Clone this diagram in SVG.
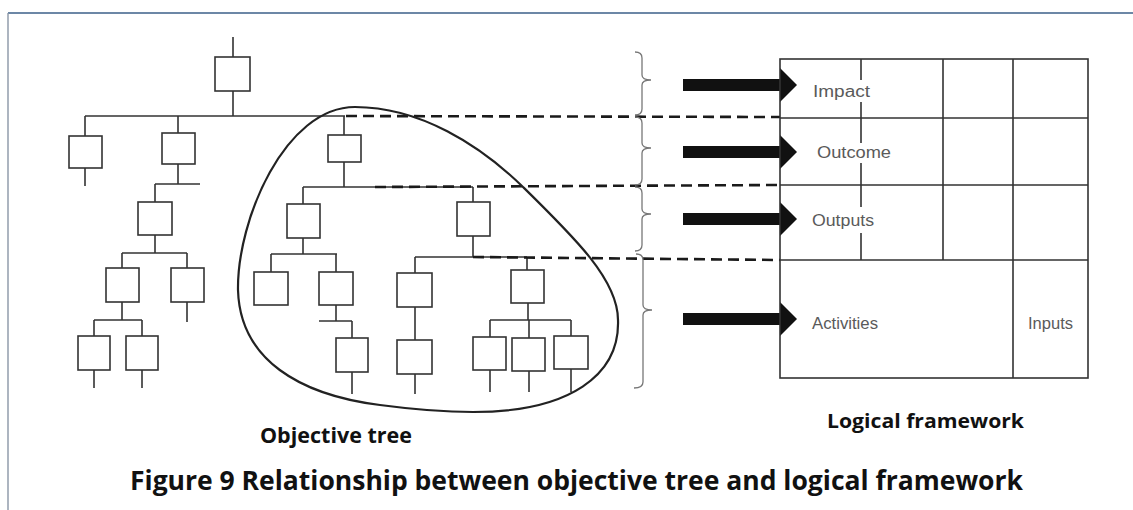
<svg xmlns="http://www.w3.org/2000/svg" xmlns:xlink="http://www.w3.org/1999/xlink" width="1133" height="510" viewBox="0 0 1133 510">
<style>
.box{fill:#fff;stroke:#333;stroke-width:1.6}
.ln{fill:none;stroke:#333;stroke-width:1.6}
.dash{fill:none;stroke:#1a1a1a;stroke-width:2.6;stroke-dasharray:11 6}
.brace{fill:none;stroke:#777;stroke-width:1.3}
.arrow{fill:#111}
.grid{fill:none;stroke:#333;stroke-width:1.6}
.blob{fill:none;stroke:#222;stroke-width:2.2}
.lf{font-family:"Liberation Sans",Arial,sans-serif;font-size:16px;fill:#5a5a5a}
.lbl{font-family:"Open Sans","Liberation Sans",Arial,sans-serif;font-weight:bold;fill:#111}
</style>
<defs>
<path id="arr" d="M0 -6 L97 -6 L97 -17 L114 0 L97 17 L97 6 L0 6 Z"/>
</defs>
<rect x="0" y="0" width="1133" height="510" fill="#fff"/>
<g id="frame">
<line x1="8" y1="13" x2="1133" y2="13" stroke="#3b5f88" stroke-width="1.6"/>
<line x1="8" y1="13" x2="8" y2="510" stroke="#8a96a6" stroke-width="1.4"/>
</g>
<g id="connectors">
<path class="ln" d="M233 37V57 M233 91V116 M85 116H345 M85 116V136 M85 168V186 M178 116V133 M178 164V184 M155 184H200 M155 184V202 M155 235V253 M122 253H187 M122 253V268 M187 253V268 M187 302V322 M122 302V320 M94 320H142 M94 320V336 M142 320V336 M94 370V388 M142 370V388"/>
<path class="ln" d="M344 116V135 M344 162V187 M303 187H473 M303 187V204 M303 238V254 M271 254H337 M271 254V272 M336 254V272 M336 305V321 M319 321H352 M352 321V338 M352 372V394 M473 187V202 M473 236V257 M415 257H527 M415 257V273 M415 307V340 M415 374V394 M527 257V270 M528 303V320 M490 320H571 M490 320V337 M529 320V338 M571 320V336 M490 370V392 M529 371V392 M571 369V392"/>
<path class="dash" d="M346 116L780 117 M375 187L780 185 M473 257L780 260"/>
<path class="blob" d="M355 107 C420 107 480 145 523 187 C575 238 618 280 618 320 C620 375 570 412 473 412 C440 412 410 409 380 405 C300 395 240 360 238 290 C237 220 285 107 355 107 Z"/>
<path class="brace" d="M635 52 Q642 52 642 58 L642 75 Q642 80 651 80 Q642 80 642 85 L642 109 Q642 115 635 115"/>
<path class="brace" d="M635 117 Q642 117 642 123 L642 143 Q642 148 651 148 Q642 148 642 153 L642 179 Q642 185 635 185"/>
<path class="brace" d="M635 187 Q642 187 642 193 L642 209 Q642 214 651 214 Q642 214 642 219 L642 245 Q642 251 635 251"/>
<path class="brace" d="M636 254 Q643 254 643 260 L643 305 Q643 310 652 310 Q643 310 643 315 L643 382 Q643 388 634 388"/>
<use xlink:href="#arr" href="#arr" class="arrow" x="683" y="85"/>
<use xlink:href="#arr" href="#arr" class="arrow" x="683" y="152"/>
<use xlink:href="#arr" href="#arr" class="arrow" x="683" y="219"/>
<use xlink:href="#arr" href="#arr" class="arrow" x="683" y="319"/>
</g>
<g id="node-L0"><rect class="box" x="215" y="57" width="35" height="34"/></g>
<g id="node-L1"><rect class="box" x="69" y="136" width="33" height="32"/></g>
<g id="node-L2"><rect class="box" x="162" y="133" width="33" height="31"/></g>
<g id="node-L3"><rect class="box" x="138" y="202" width="34" height="33"/></g>
<g id="node-L4"><rect class="box" x="106" y="268" width="33" height="34"/></g>
<g id="node-L5"><rect class="box" x="171" y="268" width="33" height="34"/></g>
<g id="node-L6"><rect class="box" x="78" y="336" width="32" height="34"/></g>
<g id="node-L7"><rect class="box" x="126" y="336" width="32" height="34"/></g>
<g id="node-M0"><rect class="box" x="328" y="135" width="33" height="27"/></g>
<g id="node-M1"><rect class="box" x="287" y="204" width="33" height="34"/></g>
<g id="node-M2"><rect class="box" x="254" y="272" width="34" height="33"/></g>
<g id="node-M3"><rect class="box" x="319" y="272" width="34" height="33"/></g>
<g id="node-M4"><rect class="box" x="336" y="338" width="32" height="34"/></g>
<g id="node-M5"><rect class="box" x="457" y="202" width="33" height="34"/></g>
<g id="node-M6"><rect class="box" x="397" y="273" width="35" height="34"/></g>
<g id="node-M7"><rect class="box" x="397" y="340" width="35" height="34"/></g>
<g id="node-M8"><rect class="box" x="511" y="270" width="33" height="33"/></g>
<g id="node-M9"><rect class="box" x="473" y="337" width="33" height="33"/></g>
<g id="node-M10"><rect class="box" x="512" y="338" width="33" height="33"/></g>
<g id="node-M11"><rect class="box" x="554" y="336" width="34" height="33"/></g>
<g id="logframe">
<rect class="grid" x="780" y="59" width="308" height="319"/>
<path class="grid" d="M780 118H1088 M780 185H1088 M780 260H1088 M943 59V260 M1013 59V378 M861 59V80 M861 102V143 M861 163V207 M861 233V260"/>
<text class="lf" x="813" y="97" textLength="57" lengthAdjust="spacingAndGlyphs">Impact</text>
<text class="lf" x="817" y="158" textLength="74" lengthAdjust="spacingAndGlyphs">Outcome</text>
<text class="lf" x="812" y="226" textLength="62" lengthAdjust="spacingAndGlyphs">Outputs</text>
<text class="lf" x="812" y="329" textLength="66" lengthAdjust="spacingAndGlyphs">Activities</text>
<text class="lf" x="1028" y="329" textLength="45" lengthAdjust="spacingAndGlyphs">Inputs</text>
</g>
<g id="labels">
<text class="lbl" x="260" y="443" font-size="21" textLength="152" lengthAdjust="spacingAndGlyphs">Objective tree</text>
<text class="lbl" x="827" y="428" font-size="20" textLength="197" lengthAdjust="spacingAndGlyphs">Logical framework</text>
<text class="lbl" x="130" y="490" font-size="26" textLength="893" lengthAdjust="spacingAndGlyphs">Figure 9 Relationship between objective tree and logical framework</text>
</g>
</svg>
